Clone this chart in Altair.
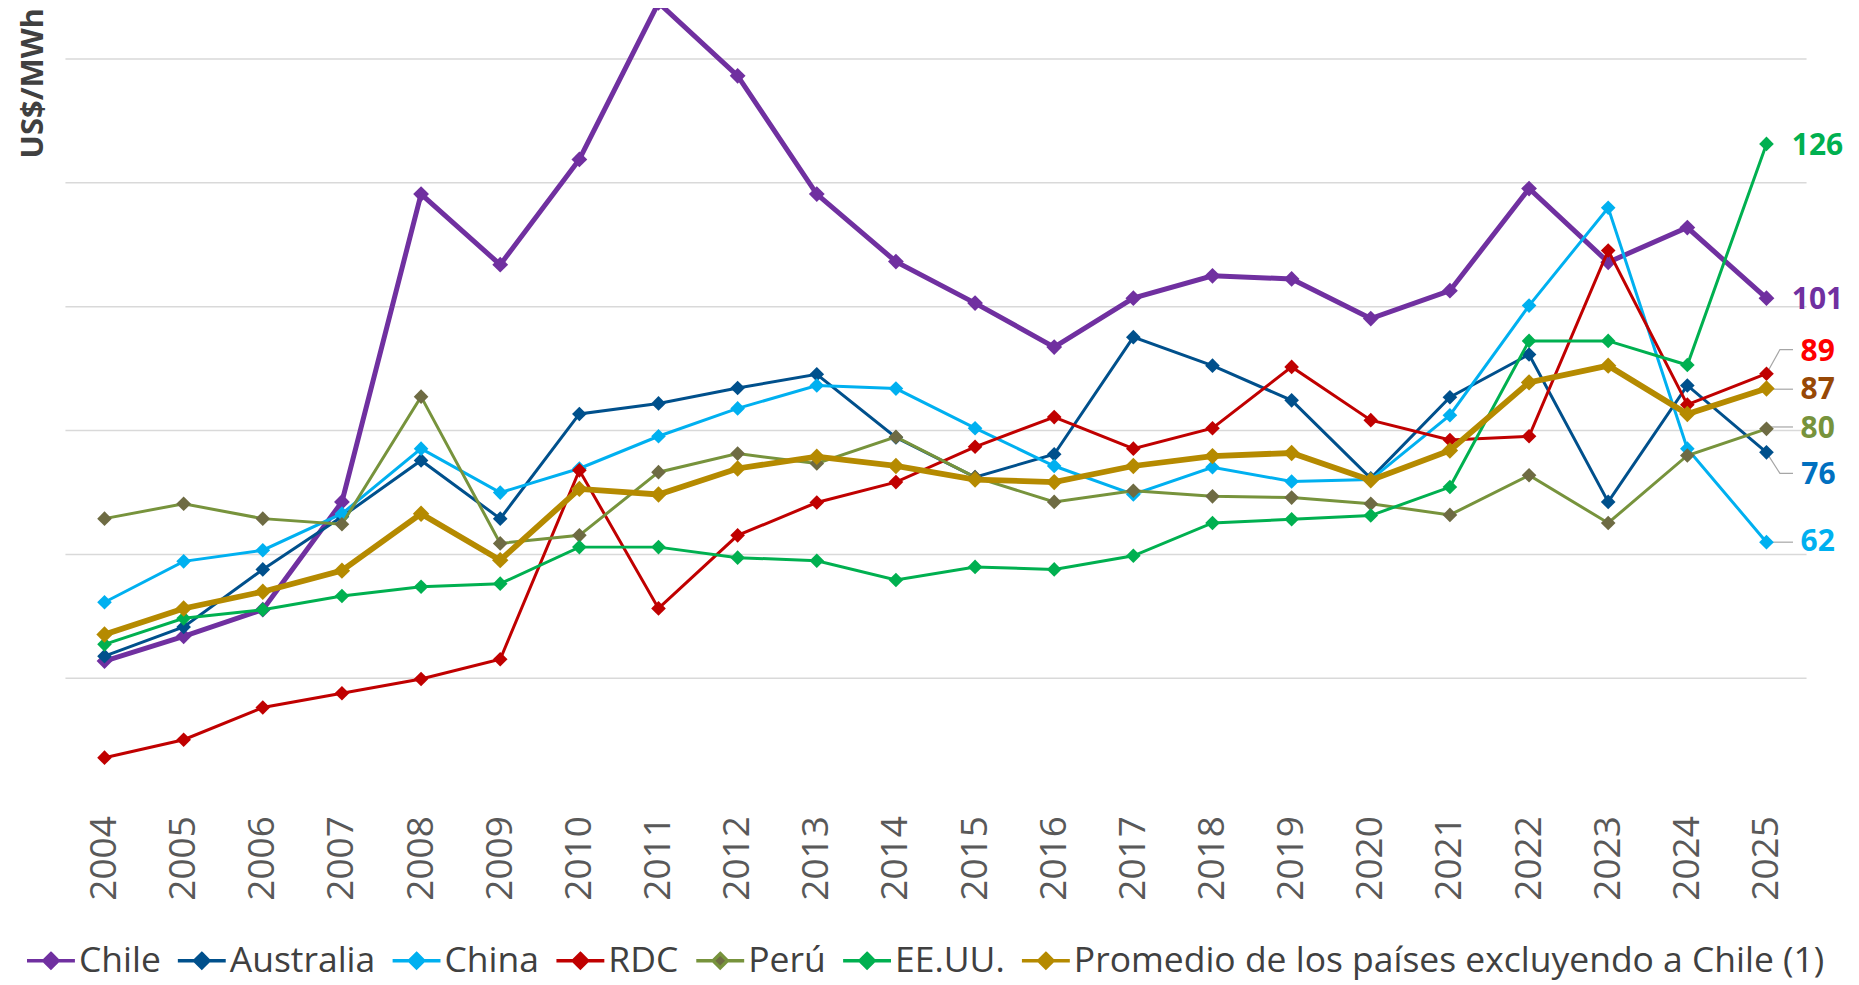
import altair as alt
import pandas as pd

years = list(range(2004, 2026))
series_names = ["Chile", "Australia", "China", "RDC", "Perú", "EE.UU.",
                "Promedio de los países excluyendo a Chile (1)"]

chile = [42.7, 46.7, 51.0, 68.4, 118.1, 106.7, 123.7, 149.0, 137.2, 118.1, 107.2,
         100.5, 93.4, 101.3, 104.9, 104.4, 98.0, 102.5, 119.0, 107.1, 112.7, 101.3]
australia = [43.5, 48.2, 57.5, 66.0, 75.1, 65.7, 82.6, 84.3, 86.8, 89.0, 78.8,
             72.4, 76.1, 95.0, 90.4, 84.8, 72.2, 85.3, 92.2, 68.4, 87.2, 76.4]
china = [52.2, 58.8, 60.6, 66.5, 77.0, 69.9, 73.8, 79.0, 83.5, 87.2, 86.7,
         80.3, 74.2, 69.6, 74.0, 71.7, 72.0, 82.4, 100.1, 115.9, 77.0, 61.9]
rdc = [27.1, 30.0, 35.2, 37.5, 39.8, 43.0, 73.5, 51.2, 63.0, 68.3, 71.6,
       77.3, 82.1, 77.0, 80.3, 90.2, 81.6, 78.4, 79.0, 109.0, 84.1, 89.1]
peru = [65.7, 68.1, 65.7, 64.8, 85.4, 61.7, 63.0, 73.2, 76.2, 74.6, 78.9,
        72.4, 68.4, 70.2, 69.3, 69.1, 68.1, 66.3, 72.7, 65.0, 75.9, 80.2]
eeuu = [45.4, 49.6, 51.0, 53.2, 54.7, 55.2, 61.1, 61.1, 59.4, 58.9, 55.8,
        57.9, 57.5, 59.7, 65.0, 65.6, 66.2, 70.8, 94.4, 94.4, 90.5, 126.2]
promedio = [47.0, 51.2, 53.9, 57.3, 66.5, 59.0, 70.5, 69.6, 73.8, 75.7, 74.2,
            72.0, 71.6, 74.2, 75.8, 76.3, 71.9, 76.7, 87.7, 90.4, 82.6, 86.7]
all_values = [chile, australia, china, rdc, peru, eeuu, promedio]

line_colors = ["#7030A0", "#00508C", "#00B0F0", "#C00000", "#77933C", "#00B050", "#B58A00"]
marker_colors = ["#7030A0", "#00508C", "#00B0F0", "#C00000", "#6E6B43", "#00B050", "#B58A00"]
line_widths = [5.0, 3.0, 3.0, 3.0, 3.0, 3.0, 5.8]
marker_sizes = [250, 215, 215, 215, 215, 215, 270]

# end-of-line value labels
end_text = ["101", "76", "62", "89", "80", "126", "87"]
end_color = ["#7030A0", "#0070C0", "#00B0F0", "#FF0000", "#77933C", "#00B050", "#974806"]
end_x = [2025.32, 2025.44, 2025.43, 2025.43, 2025.43, 2025.32, 2025.43]
end_y = [101.0, 72.7, 61.9, 92.6, 80.2, 125.9, 86.4]

# leader lines (segment id, order, x, y)
lead_seg = ["RDC", "RDC", "RDC", "Prom", "Prom", "Peru", "Peru", "Aus", "Aus", "Aus", "China", "China"]
lead_ord = [0, 1, 2, 0, 1, 0, 1, 0, 1, 2, 0, 1]
lead_x = [2025.0, 2025.17, 2025.335, 2025.0, 2025.335, 2025.0, 2025.335,
          2025.0, 2025.17, 2025.335, 2025.0, 2025.335]
lead_y = [89.1, 93.0, 93.0, 86.6, 86.6, 80.5, 80.5, 76.4, 73.0, 73.0, 61.9, 61.9]

rows = []
for name, vals in zip(series_names, all_values):
    for yr, v in zip(years, vals):
        rows.append({"year": yr, "value": v, "series": name})
df = pd.DataFrame(rows)

labels_df = pd.DataFrame({"lx": end_x, "ly": end_y, "label": end_text, "lcolor": end_color})
lead_df = pd.DataFrame({"seg": lead_seg, "ord": lead_ord, "lx": lead_x, "ly": lead_y})

FONT = "Open Sans"
LEG_PATH = "M-1,0L-0.3,0M0.3,0L1,0M0,-0.3L0.3,0L0,0.3L-0.3,0Z"

legend_def = alt.Legend(
    title=None, orient="none", legendX=-40, legendY=877, direction="horizontal",
    columns=7, symbolType=LEG_PATH, symbolSize=2300, symbolStrokeWidth=3.4,
    labelFont=FONT, labelFontSize=35.5, labelColor="#404040", labelOffset=2,
    columnPadding=10, padding=0, labelLimit=1200,
)

stroke_scale = alt.Scale(domain=series_names, range=line_colors)
fill_scale = alt.Scale(domain=series_names, range=marker_colors)

x_enc = alt.X("year:Q", scale=alt.Scale(domain=[2003.5, 2025.5], nice=False, zero=False),
              axis=alt.Axis(values=years, format="d", labelAngle=270, labelFont=FONT,
                            labelFontSize=37, labelColor="#595959", labelPadding=14,
                            tickSize=0, ticks=False, domain=False, grid=False,
                            labelFlush=False, labelOverlap=False, title=None))
y_scale = alt.Scale(domain=[20, 140], nice=False, zero=False)
y_enc = alt.Y("value:Q", scale=y_scale,
              axis=alt.Axis(values=[40, 60, 80, 100, 120, 140], labels=False, ticks=False,
                            domain=False, grid=True, gridColor="#D9D9D9", gridWidth=1.5,
                            title="US$/MWh", titleFont=FONT, titleFontSize=31,
                            titleFontWeight="bold", titleColor="#404040", titleAngle=270,
                            titleAlign="right", titleBaseline="alphabetic",
                            titleX=-22, titleY=-51))

leaders = alt.Chart(lead_df).mark_line(color="#A6A6A6", strokeWidth=1.2).encode(
    x=alt.X("lx:Q"), y=alt.Y("ly:Q"), detail="seg:N", order="ord:Q")

layers = [leaders]
for i, name in enumerate(series_names):
    base = alt.Chart(df).transform_filter(alt.datum.series == name)
    ln = base.mark_line(strokeWidth=line_widths[i]).encode(
        x=x_enc, y=y_enc,
        stroke=alt.Stroke("series:N", scale=stroke_scale, legend=legend_def),
    )
    pt = base.mark_point(shape="diamond", filled=True, size=marker_sizes[i], opacity=1).encode(
        x=x_enc, y=y_enc,
        fill=alt.Fill("series:N", scale=fill_scale, legend=legend_def),
    )
    layers += [ln, pt]

texts = alt.Chart(labels_df).mark_text(align="left", baseline="middle", font=FONT,
                                       fontSize=30, fontWeight="bold").encode(
    x=alt.X("lx:Q"), y=alt.Y("ly:Q"), text="label:N",
    color=alt.Color("lcolor:N", scale=None))
layers.append(texts)

chart = alt.layer(*layers).properties(
    width=1743, height=744,
    padding={"left": 57, "top": 50, "right": 45, "bottom": 182},
    autosize=alt.AutoSizeParams(type="none"),
    background="white",
).configure_view(stroke=None)

chart.save("out.html", embed_options={"renderer": "svg", "actions": False})
